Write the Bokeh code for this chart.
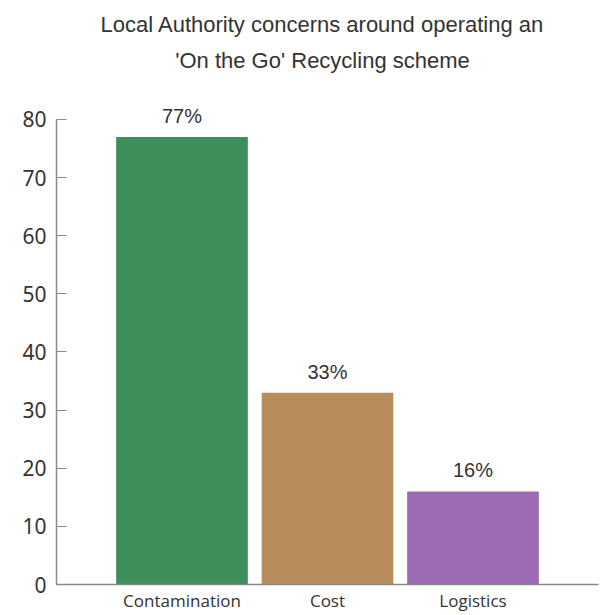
from bokeh.plotting import figure
from bokeh.models import ColumnDataSource, LabelSet, Label, FactorRange, FixedTicker
from bokeh.core.properties import value
from bokeh.embed import file_html
from bokeh.resources import INLINE

categories = ["Contamination", "Cost", "Logistics"]
values = [77, 33, 16]
labels = ["77%", "33%", "16%"]
colors = ["#3e8f5c", "#b98c5c", "#9b6ab2"]
y_ticks = [0, 10, 20, 30, 40, 50, 60, 70, 80]
title_lines = ["Local Authority concerns around operating an", "'On the Go' Recycling scheme"]

source = ColumnDataSource(dict(cat=categories, val=values, lab=labels, col=colors))

FRAME_H = 589  # frame from canvas top to x axis
p = figure(
    width=600, height=614,
    x_range=FactorRange(factors=categories, range_padding=0.3625, range_padding_units="absolute"),
    y_range=(0, 100.47),
    output_backend="svg", toolbar_location=None,
    min_border_left=56, min_border_right=2, min_border_top=0, min_border_bottom=25,
)
p.title = None

# title lines (screen units, relative to the plot frame)
for txt, base in zip(title_lines, (29, 65)):
    p.add_layout(Label(x=266, y=FRAME_H - base, x_units="screen", y_units="screen",
                       text=txt, text_align="center", text_baseline="alphabetic",
                       text_font="Liberation Sans", text_font_size="22px",
                       text_color="#333333"))

p.vbar(x="cat", top="val", width=0.905, source=source, fill_color="col", line_color=None)

p.add_layout(LabelSet(x="cat", y="val", text="lab", source=source, text_align="center",
                      text_baseline="alphabetic", y_offset=14, text_font=value("Liberation Sans"),
                      text_font_size=value("20px"), text_color=value("#333333")))

p.xgrid.grid_line_color = None
p.ygrid.grid_line_color = None
p.outline_line_color = None
p.background_fill_color = "white"

for ax in (p.xaxis[0], p.yaxis[0]):
    ax.axis_line_color = "#8a8a8a"
    ax.axis_line_width = 1.5
    ax.major_label_text_color = "#333333"

p.yaxis.bounds = (0, 80)
p.yaxis.ticker = FixedTicker(ticks=y_ticks)
p.yaxis.minor_tick_line_color = None
p.yaxis.major_tick_in = 10
p.yaxis.major_tick_out = 0
p.yaxis.major_tick_line_color = "#8a8a8a"
p.yaxis.major_label_standoff = 10
p.yaxis.major_label_text_font = "Noto Sans"
p.yaxis.major_label_text_font_size = "21px"

p.xaxis.major_tick_line_color = None
p.xaxis.minor_tick_line_color = None
p.xaxis.major_tick_out = 0
p.xaxis.major_label_standoff = 4
p.xaxis.major_label_text_font = "Open Sans"
p.xaxis.major_label_text_font_size = "17px"

open("out.html", "w").write(file_html(p, INLINE))
